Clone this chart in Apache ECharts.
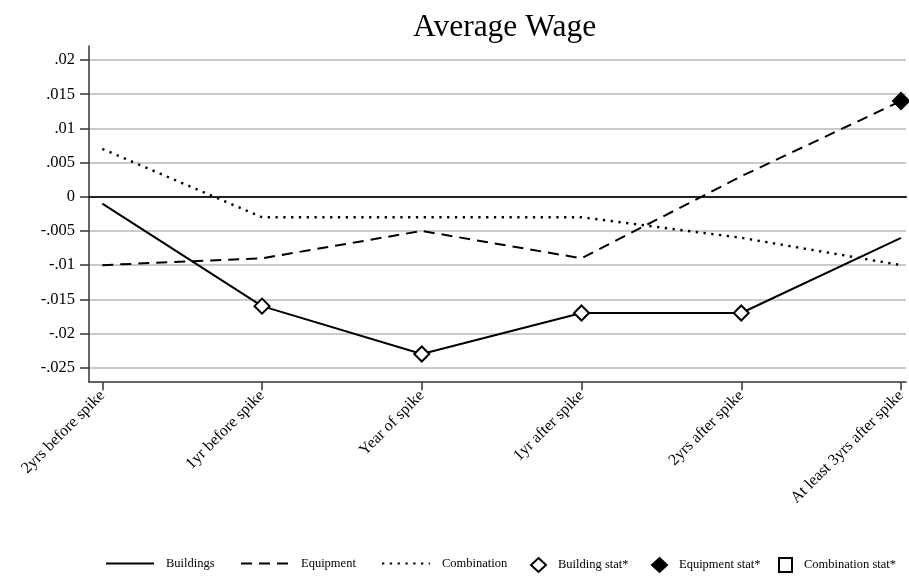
<!DOCTYPE html>
<html>
<head>
<meta charset="utf-8">
<script src="https://cdn.jsdelivr.net/npm/echarts@6/dist/echarts.min.js"></script>
<style>
  html, body { margin: 0; padding: 0; background: #fff; }
  #chart { width: 909px; height: 579px; }
</style>
</head>
<body>
<div id="chart"></div>
<script>
// Periods relative to the wage spike
const categories = [
  '2yrs before spike', '1yr before spike', 'Year of spike',
  '1yr after spike', '2yrs after spike', 'At least 3yrs after spike'
];

// Estimated effects on average wage
const buildings   = [-0.001, -0.016, -0.023, -0.017, -0.017, -0.006];
const equipment   = [-0.010, -0.009, -0.005, -0.009,  0.003,  0.014];
const combination = [ 0.007, -0.003, -0.003, -0.003, -0.006, -0.010];

// Statistically significant estimates (marked with symbols)
const buildingSig    = [false, true,  true,  true,  true,  false];
const equipmentSig   = [false, false, false, false, false, true];
const combinationSig = [false, false, false, false, false, false];

// Value axis ticks
const yMin = -0.025, yMax = 0.02, yStep = 0.005;

const FONT = 'Liberation Serif';

function stataNum(v) {
  const r = Math.round(v * 1000) / 1000;
  if (r === 0) return '0';
  return String(r).replace(/^(-?)0\./, '$1.');
}
function flagged(values, flags) {
  return values.map((v, i) => flags[i] ? v : null);
}

// Layout of the plot region
const frame = { left: 89, right: 3, top: 46, bottom: 197 };
const band  = { left: 89, right: 3, top: 60, bottom: 211.3 };
const data  = { left: 102.3, right: 8, top: 60, bottom: 211.3 };

const chart = echarts.init(document.getElementById('chart'), null, { renderer: 'canvas' });

const lineSeries = (name, values, type, width) => ({
  name, type: 'line', data: values, xAxisIndex: 2, yAxisIndex: 2,
  symbol: 'none', showSymbol: false, z: 5,
  lineStyle: { color: '#000', width, type },
  itemStyle: { color: '#000' },
  emphasis: { disabled: true }, animation: false
});
const markSeries = (name, values, symbol, fill, size) => ({
  name, type: 'scatter', data: values, xAxisIndex: 2, yAxisIndex: 2,
  symbol, symbolSize: size, z: 6,
  itemStyle: { color: fill, borderColor: '#000', borderWidth: 2, opacity: 1 },
  emphasis: { disabled: true }, animation: false
});

// One legend component per entry so each can be placed precisely
const legendDefs = [
  { name: 'Buildings',          left: 100, w: 48, line: true },
  { name: 'Equipment',          left: 235, w: 48, line: true },
  { name: 'Combination',        left: 376, w: 48, line: true },
  { name: 'Building stat*',     left: 525, w: 15, line: false },
  { name: 'Equipment stat*',    left: 646, w: 15, line: false },
  { name: 'Combination stat*',  left: 773, w: 13, line: false }
];
const legends = legendDefs.map(d => {
  const lg = {
    data: [d.name], left: d.left, top: 552, orient: 'horizontal',
    itemWidth: d.w, itemHeight: 14, selectedMode: false,
    textStyle: { fontFamily: FONT, fontSize: 12.5, color: '#000', padding: [0, 0, 0, 7] }
  };
  if (d.line) lg.itemStyle = { opacity: 0 };
  return lg;
});

chart.setOption({
  animation: false,
  backgroundColor: '#fff',
  title: {
    text: 'Average Wage', left: 408, top: 7,
    textStyle: { fontFamily: FONT, fontSize: 31.5, fontWeight: 'normal', color: '#000' }
  },
  legend: legends,
  grid: [
    Object.assign({ outerBoundsMode: 'none', containLabel: false }, frame),
    Object.assign({ outerBoundsMode: 'none', containLabel: false }, band),
    Object.assign({ outerBoundsMode: 'none', containLabel: false }, data)
  ],
  xAxis: [
    { // plot frame, bottom edge
      gridIndex: 0, type: 'value', min: 0, max: 1,
      axisLine: { show: true, onZero: false, lineStyle: { color: '#333', width: 1.5 } },
      axisTick: { show: false }, axisLabel: { show: false }, splitLine: { show: false }
    },
    { // zero reference line across the plot region
      gridIndex: 1, type: 'value', min: 0, max: 1,
      axisLine: { show: true, onZero: true, lineStyle: { color: '#222', width: 2.2 } },
      axisTick: { show: false }, axisLabel: { show: false }, splitLine: { show: false }
    },
    { // categories
      gridIndex: 2, type: 'category', data: categories, boundaryGap: false,
      position: 'bottom', offset: 14.5,
      axisLine: { show: false, onZero: false },
      axisTick: { show: true, inside: false, alignWithLabel: true, length: 8, lineStyle: { color: '#333', width: 1.5 } },
      axisLabel: {
        show: true, rotate: 45, interval: 0, margin: 11, hideOverlap: false,
        fontFamily: FONT, fontSize: 16, color: '#000'
      },
      splitLine: { show: false }
    }
  ],
  yAxis: [
    {
      gridIndex: 0, type: 'value', min: 0, max: 1,
      axisLine: { show: true, onZero: false, lineStyle: { color: '#333', width: 1.5 } },
      axisTick: { show: false }, axisLabel: { show: false }, splitLine: { show: false }
    },
    {
      gridIndex: 1, type: 'value', min: yMin, max: yMax, interval: yStep,
      axisLine: { show: false, onZero: false },
      axisTick: { show: true, inside: false, length: 9, lineStyle: { color: '#333', width: 1.5 } },
      axisLabel: {
        show: true, margin: 14, formatter: stataNum,
        fontFamily: FONT, fontSize: 16.5, color: '#000'
      },
      splitLine: { show: true, lineStyle: { color: '#b9b9b9', width: 1.5 } }
    },
    {
      gridIndex: 2, type: 'value', min: yMin, max: yMax, interval: yStep,
      show: false
    }
  ],
  series: [
    lineSeries('Buildings', buildings, 'solid', 2),
    lineSeries('Equipment', equipment, [11, 7], 2),
    lineSeries('Combination', combination, [2.3, 5.5], 2.4),
    markSeries('Building stat*', flagged(buildings, buildingSig), 'diamond', '#fff', 15),
    markSeries('Equipment stat*', flagged(equipment, equipmentSig), 'diamond', '#000', 16),
    markSeries('Combination stat*', flagged(combination, combinationSig), 'rect', '#fff', 11)
  ]
});
</script>
</body>
</html>
